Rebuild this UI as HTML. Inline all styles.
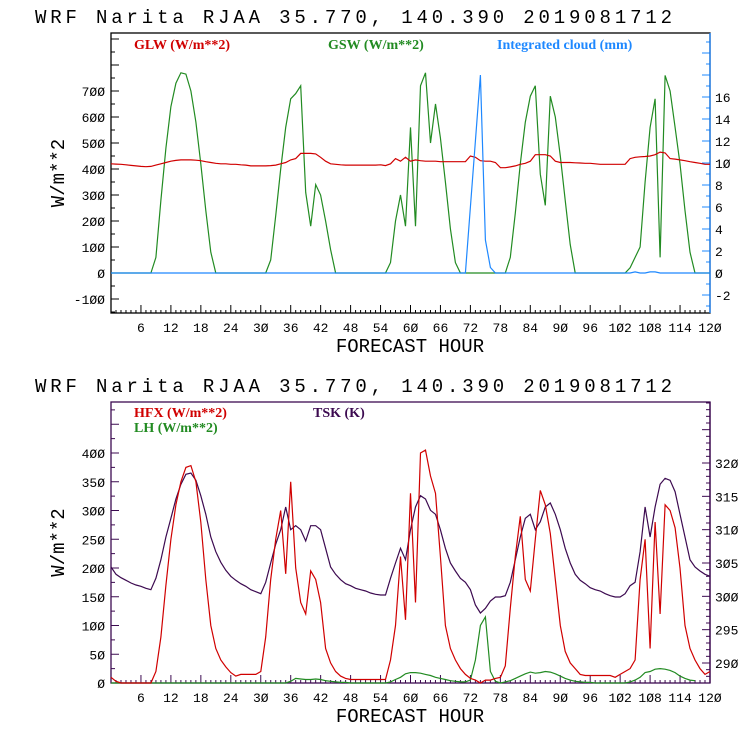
<!DOCTYPE html>
<html><head><meta charset="utf-8"><style>
html,body{margin:0;padding:0;background:#fff;width:740px;height:740px;overflow:hidden}
svg{display:block}
.t{font-family:"Liberation Mono",monospace;font-size:19px;fill:#000}
.tk{font-family:"Liberation Mono",monospace;font-size:13px;fill:#000}
.lg{font-family:"Liberation Serif",serif;font-size:14px;font-weight:bold}
</style></head><body>
<svg id="c" width="740" height="740" viewBox="0 0 740 740" xmlns="http://www.w3.org/2000/svg"></svg>
<script>
const hours = Array.from({length:121},(_,i)=>i);
const xTicks = [6,12,18,24,30,36,42,48,54,60,66,72,78,84,90,96,102,108,114,120];
const gsw = [0,0,0,0,0,0,0,0,0,60,280,480,640,730,770,765,700,580,420,240,80,0,0,0,0,0,0,0,0,0,0,0,50,220,400,560,670,690,720,310,180,340,300,200,90,0,0,0,0,0,0,0,0,0,0,0,40,200,300,180,560,180,720,770,500,650,520,350,170,40,0,0,0,0,0,0,0,0,0,0,60,230,420,580,680,720,380,260,680,600,450,280,110,0,0,0,0,0,0,0,0,0,0,0,20,60,100,350,560,670,60,760,700,560,420,240,80,0,0,0,0];
const glw = [420,419,418,416,414,412,410,409,410,415,420,425,430,433,435,435,435,434,432,428,425,422,420,420,418,418,416,415,412,412,412,412,413,415,420,425,435,440,460,460,460,458,445,430,420,418,416,415,415,415,415,415,415,415,416,413,420,440,430,445,430,435,432,430,430,430,428,428,428,428,428,428,450,445,432,430,430,425,405,405,408,412,418,422,430,455,455,455,450,430,425,425,425,424,423,422,422,420,418,418,418,418,418,418,440,445,447,448,450,455,465,462,440,438,435,432,428,425,422,418,418];
const cloud = [0,0,0,0,0,0,0,0,0,0,0,0,0,0,0,0,0,0,0,0,0,0,0,0,0,0,0,0,0,0,0,0,0,0,0,0,0,0,0,0,0,0,0,0,0,0,0,0,0,0,0,0,0,0,0,0,0,0,0,0,0,0,0,0,0,0,0,0,0,0,0,0,6,12,18,3,0.5,0,0,0,0,0,0,0,0,0,0,0,0,0,0,0,0,0,0,0,0,0,0,0,0,0,0,0,0,0.1,0,0,0.1,0.1,0,0,0,0,0,0,0,0,0,0,0];
const hfx = [10,3,0,0,0,0,0,0,0,20,80,170,250,310,350,375,378,350,280,180,100,60,40,28,18,12,15,15,15,15,20,80,180,250,300,190,350,200,140,120,195,180,140,60,35,20,12,8,6,6,6,6,6,6,6,6,40,100,220,110,330,140,400,405,360,330,220,100,60,40,25,15,8,5,0,5,5,8,10,30,130,220,290,180,160,250,335,310,260,180,100,55,35,25,15,13,13,13,13,13,13,10,15,20,25,40,180,250,60,280,120,310,300,270,200,100,60,40,25,15,20];
const lh = [0,0,0,0,0,0,0,0,0,0,0,0,0,0,0,0,0,0,0,0,0,0,0,0,0,0,0,0,0,0,0,0,0,0,0,0,3,8,7,6,6,7,6,4,3,2,1,1,0,0,0,0,0,0,0,0,2,6,10,16,18,18,17,15,13,10,8,6,4,3,2,2,5,40,100,115,20,3,0,2,4,8,12,16,19,17,18,20,19,16,12,8,5,3,2,1,1,0,0,0,0,0,0,0,2,5,10,18,20,24,25,24,22,18,12,8,5,4];
const tsk = [304.4,303.3,302.8,302.4,302.0,301.7,301.5,301.2,301,302.7,305.5,308.9,311.7,314.6,316.8,318.3,318.5,317.4,315.1,312.3,308.9,306.7,305.1,303.9,303,302.4,301.9,301.5,301,300.7,300.4,302.1,305,307.8,310,313.4,310,310.6,310,308.3,310.6,310.6,310,307.2,304.4,303.3,302.5,301.9,301.6,301.2,301,300.8,300.5,300.3,300.2,300.2,302.7,305,307.2,305.5,310,313.4,315.1,314.6,312.9,312.3,310,307.2,305,303.8,302.7,302.1,301,298.7,297.5,298.2,299.3,299.9,299.9,300.1,302.1,305.5,308.9,311.7,312.3,310,311.2,313.4,314,312.3,310,307.2,305,303.3,302.4,301.9,301.3,301,300.8,300.4,300.1,299.9,299.9,300.4,301.6,302.1,306.7,313.4,308.9,313.4,316.8,317.7,317.4,315.7,312.3,308.9,305.5,304.4,303.8,303.3,303];
const topLeftTicks = [-100,0,100,200,300,400,500,600,700];
const topRightTicks = [-2,0,2,4,6,8,10,12,14,16];
const botLeftTicks = [0,50,100,150,200,250,300,350,400];
const botRightTicks = [290,295,300,305,310,315,320];

const NS="http://www.w3.org/2000/svg";
const svg=document.getElementById('c');
function mk(tag,attrs,parent){const e=document.createElementNS(NS,tag);for(const k in attrs)e.setAttribute(k,attrs[k]);(parent||svg).appendChild(e);return e;}
const L=111,R=710;
const xs=h=>L+h*(R-L)/120;

function panel(p){
  const g=mk('g',{});
  
  
  const yl=v=>p.y0+(v-p.l0)*(p.y1-p.y0)/(p.l1-p.l0);
  const yr=v=>p.ry0+(v-p.r0)*(p.ry1-p.ry0)/(p.r1-p.r0);
  const title=mk('text',{x:35,y:p.top-10,class:'t',textLength:637,lengthAdjust:'spacing'},g);
  title.textContent='WRF  Narita RJAA   35.770, 140.390  2019081712';
  
  
  for(let h=1;h<120;h++){
    const len=h%6===0?8:3;
    mk('line',{x1:xs(h),x2:xs(h),y1:p.bot,y2:p.bot-len,stroke:p.frame,'stroke-width':1},g);
  }
  xTicks.forEach(h=>{
    const t=mk('text',{x:xs(h),y:p.bot+19,class:'tk','text-anchor':'middle'},g);
    t.textContent=String(h).replace(/0/g,'Ø');
    
    
  });
  const xt=mk('text',{x:410,y:p.bot+39,class:'t','text-anchor':'middle'},g);
  xt.textContent='FORECAST HOUR';
  
  
  const yt=mk('text',{x:0,y:0,class:'t','text-anchor':'middle',transform:`translate(64,${(p.top+p.bot)/2}) rotate(-90)`},g);
  yt.textContent='W/m**2';
  
  
  for(let v=p.lminStart;v<=p.lmax;v+=p.lminor){
    const y=yl(v); if(y<p.top||y>p.bot)continue;
    const len=(v%p.lmajor===0)?8:4;
    mk('line',{x1:L,x2:L+len,y1:y,y2:y,stroke:p.frame},g);
  }
  p.lTicks.forEach(v=>{
    const t=mk('text',{x:L-6,y:yl(v)+5,class:'tk','text-anchor':'end','font-size':15},g);
    t.textContent=String(v).replace(/0/g,'Ø');
    
    
  });
  for(let v=p.rminStart;v<=p.rmax;v+=p.rminor){
    const y=yr(v); if(y<p.top||y>p.bot)continue;
    const len=(Math.abs(v%p.rmajor)<1e-9)?8:4;
    mk('line',{x1:R,x2:R-len,y1:y,y2:y,stroke:p.rcolor},g);
  }
  p.rTicks.forEach(v=>{
    const t=mk('text',{x:R+5,y:yr(v)+5,class:'tk','font-size':p.rfs},g);
    t.textContent=String(v).replace(/0/g,'Ø');
    
    
  });
  mk('rect',{x:L,y:p.top,width:R-L,height:p.bot-p.top,fill:'none',stroke:p.frame,'stroke-width':1.3},g);
  mk('line',{x1:R,x2:R,y1:p.top,y2:p.bot,stroke:p.rcolor,'stroke-width':1.3},g);
  p.series.forEach(s=>{
    const f=s.axis==='r'?yr:yl;
    const d=s.data.map((v,i)=>(i?'L':'M')+xs(hours[i]).toFixed(1)+','+f(v).toFixed(1)).join('');
    const path=mk('path',{d:d,fill:'none',stroke:s.color,'stroke-width':1.2},g);
    
    
  });
  p.legend.forEach(l=>{
    const t=mk('text',{x:l.x,y:l.y,class:'lg',fill:l.color},g);
    t.textContent=l.text;
    
    
  });
}
panel({name:'radiation-panel',top:33,bot:313,y0:273,y1:91,l0:0,l1:700,ry0:273,ry1:97,r0:0,r1:16,frame:'#000',rcolor:'#1e88ff',
  lTicks:topLeftTicks,rTicks:topRightTicks,lminStart:-150,lmax:950,lminor:50,lmajor:100,rminStart:-4,rmax:22,rminor:1,rmajor:2,rfs:15,
  series:[{name:'gsw',data:gsw,color:'#228b22',axis:'l'},{name:'glw',data:glw,color:'#d00000',axis:'l'},{name:'cloud',data:cloud,color:'#1e88ff',axis:'r'}],
  legend:[{x:134,y:49,text:'GLW (W/m**2)',color:'#d00000'},{x:328,y:49,text:'GSW (W/m**2)',color:'#228b22'},{x:497,y:49,text:'Integrated cloud (mm)',color:'#1e88ff'}]});
panel({name:'flux-panel',top:402,bot:683,y0:683,y1:453,l0:0,l1:400,ry0:663,ry1:463,r0:290,r1:320,frame:'#3c0a50',rcolor:'#3c0a50',
  lTicks:botLeftTicks,rTicks:botRightTicks,lminStart:0,lmax:500,lminor:25,lmajor:50,rminStart:287,rmax:330,rminor:1,rmajor:5,rfs:12,
  series:[{name:'tsk',data:tsk,color:'#3c0a50',axis:'r'},{name:'lh',data:lh,color:'#228b22',axis:'l'},{name:'hfx',data:hfx,color:'#d00000',axis:'l'}],
  legend:[{x:134,y:417,text:'HFX (W/m**2)',color:'#d00000'},{x:134,y:432,text:'LH  (W/m**2)',color:'#228b22'},{x:313,y:417,text:'TSK (K)',color:'#3c0a50'}]});
</script>
</body></html>
